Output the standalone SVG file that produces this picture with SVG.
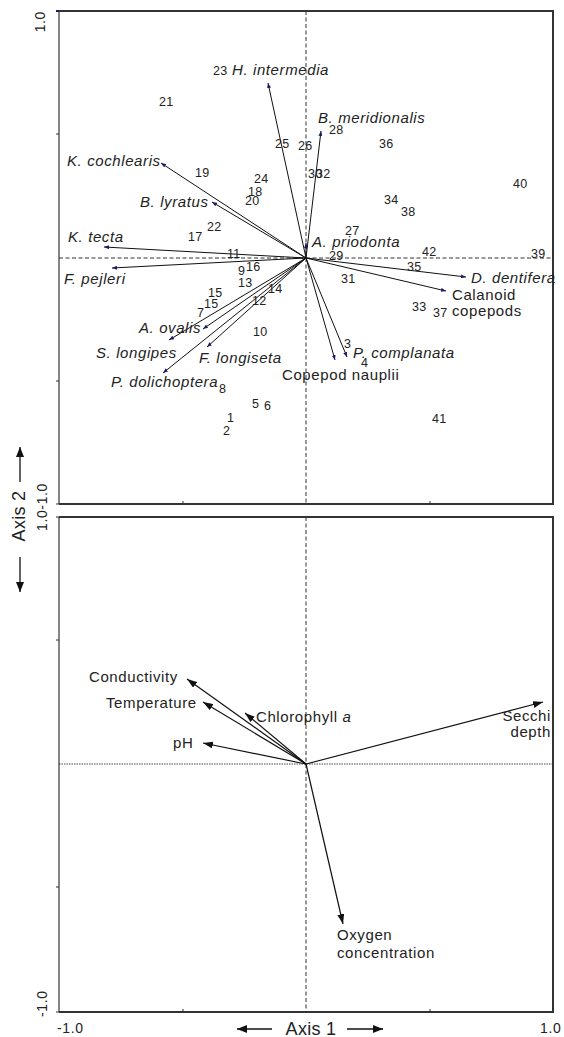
<svg xmlns="http://www.w3.org/2000/svg" width="564" height="1037" viewBox="0 0 564 1037">
<style>
text{font-family:"Liberation Sans",Arial,Helvetica,sans-serif;fill:#222}
.lb{font-size:15px;letter-spacing:0.6px}
.it{font-style:italic}
.n{font-size:12.5px;letter-spacing:0.3px}
.tk{font-size:14px;letter-spacing:0.6px}
.ax{font-size:18px;letter-spacing:0.3px}
.fr{stroke:#333;stroke-width:2;fill:none}
.fl{stroke:#333;stroke-width:1.2;fill:none}
.tick{stroke:#333;stroke-width:1}
.dash{stroke:#333;stroke-width:1;stroke-dasharray:4 2.5;fill:none}
.dot{stroke:#444;stroke-width:1;stroke-dasharray:1.5 1;fill:none}
.sp{stroke:#111;stroke-width:1;fill:none;marker-end:url(#hs)}
.ev{stroke:#111;stroke-width:1.2;fill:none;marker-end:url(#he)}
.aa{stroke:#111;stroke-width:1.3;fill:none;marker-end:url(#ha)}
</style>
<defs>
<marker id="hs" markerUnits="userSpaceOnUse" markerWidth="5" markerHeight="4" refX="5" refY="2" orient="auto"><path d="M0,0 L5,2 L0,4 z" fill="#1c1a6b"/></marker>
<marker id="he" markerUnits="userSpaceOnUse" markerWidth="10" markerHeight="7" refX="10" refY="3.5" orient="auto"><path d="M0,0 L10,3.5 L0,7 z" fill="#111"/></marker>
<marker id="ha" markerUnits="userSpaceOnUse" markerWidth="10" markerHeight="8" refX="10" refY="4" orient="auto"><path d="M0,0 L10,4 L0,8 z" fill="#111"/></marker>
</defs>
<rect width="564" height="1037" fill="#fff"/>

<g id="frames">
<line class="dash" x1="306" y1="11" x2="306" y2="504"/>
<line class="dash" x1="59" y1="258" x2="553" y2="258"/>
<line class="dash" x1="306" y1="517" x2="306" y2="1012"/>
<line class="dot" x1="59" y1="764" x2="553" y2="764"/>
<path class="fr" d="M59,11 H553 V504 H59"/>
<line class="fl" x1="59" y1="11" x2="59" y2="504"/>
<path class="fr" d="M59,517 H553 V1012 H59"/>
<line class="fl" x1="59" y1="517" x2="59" y2="1012"/>
<line x1="56" y1="11" x2="59" y2="11" stroke="#1c1a6b" stroke-width="2"/>
<path class="tick" d="M56,134 H59 M56,381 H59 M56,504 H59 M56,517 H59 M56,640 H59 M56,887 H59 M56,1012 H59 M183,504 V501 M430,504 V501 M183,1012 V1009 M430,1012 V1009"/>
</g>

<g id="axis-labels">
<text class="tk" transform="translate(45,11) rotate(-90)" text-anchor="end">1.0</text>
<text class="tk" transform="translate(47,507) rotate(-90)" text-anchor="middle">1.0-1.0</text>
<text class="tk" transform="translate(47,1017) rotate(-90)">-1.0</text>
<text class="tk" x="57" y="1033">-1.0</text>
<text class="tk" x="540" y="1033">1.0</text>
<text class="ax" transform="translate(25,516) rotate(-90)" text-anchor="middle">Axis 2</text>
<text class="ax" x="311" y="1035" text-anchor="middle">Axis 1</text>
</g>

<g id="connectors">
<line class="aa" x1="20" y1="482" x2="20" y2="447"/>
<line class="aa" x1="20" y1="557" x2="20" y2="592"/>
<line class="aa" x1="272" y1="1029" x2="237" y2="1029"/>
<line class="aa" x1="347" y1="1029" x2="383" y2="1029"/>
<line class="sp" x1="306" y1="258" x2="268" y2="83"/>
<line class="sp" x1="306" y1="258" x2="321" y2="131"/>
<line class="sp" x1="306" y1="258" x2="161" y2="163"/>
<line class="sp" x1="306" y1="258" x2="212" y2="202"/>
<line class="sp" x1="306" y1="258" x2="104" y2="247"/>
<line class="sp" x1="306" y1="258" x2="306" y2="243"/>
<line class="sp" x1="306" y1="258" x2="112" y2="268"/>
<line class="sp" x1="306" y1="258" x2="466" y2="277"/>
<line class="sp" x1="306" y1="258" x2="446" y2="291"/>
<line class="sp" x1="306" y1="258" x2="203" y2="329"/>
<line class="sp" x1="306" y1="258" x2="169" y2="340"/>
<line class="sp" x1="306" y1="258" x2="207" y2="347"/>
<line class="sp" x1="306" y1="258" x2="163" y2="373"/>
<line class="sp" x1="306" y1="258" x2="347" y2="357"/>
<line class="sp" x1="306" y1="258" x2="335" y2="360"/>
<line class="ev" x1="306" y1="764" x2="187" y2="679"/>
<line class="ev" x1="306" y1="764" x2="203" y2="702"/>
<line class="ev" x1="306" y1="764" x2="245" y2="713"/>
<line class="ev" x1="306" y1="764" x2="203" y2="743"/>
<line class="ev" x1="306" y1="764" x2="543" y2="702"/>
<line class="ev" x1="306" y1="764" x2="343" y2="924"/>
</g>

<g id="species">
<g id="sp-h-intermedia"><text class="lb it" x="232" y="75">H. intermedia</text></g>
<g id="sp-b-meridionalis"><text class="lb it" x="318" y="123">B. meridionalis</text></g>
<g id="sp-k-cochlearis"><text class="lb it" x="67" y="166">K. cochlearis</text></g>
<g id="sp-b-lyratus"><text class="lb it" x="140" y="207">B. lyratus</text></g>
<g id="sp-k-tecta"><text class="lb it" x="68" y="242">K. tecta</text></g>
<g id="sp-a-priodonta"><text class="lb it" x="312" y="247">A. priodonta</text></g>
<g id="sp-f-pejleri"><text class="lb it" x="64" y="284">F. pejleri</text></g>
<g id="sp-d-dentifera"><text class="lb it" x="471" y="283">D. dentifera</text></g>
<g id="sp-calanoid"><text class="lb" x="452" y="300">Calanoid</text><text class="lb" x="452" y="316">copepods</text></g>
<g id="sp-a-ovalis"><text class="lb it" x="139" y="333">A. ovalis</text></g>
<g id="sp-s-longipes"><text class="lb it" x="96" y="358">S. longipes</text></g>
<g id="sp-f-longiseta"><text class="lb it" x="199" y="363">F. longiseta</text></g>
<g id="sp-p-dolichoptera"><text class="lb it" x="111" y="387">P. dolichoptera</text></g>
<g id="sp-p-complanata"><text class="lb it" x="353" y="358">P. complanata</text></g>
<g id="sp-nauplii"><text class="lb" x="282" y="380">Copepod nauplii</text></g>
</g>

<g id="sites">
<g id="s23"><text class="n" x="213" y="75">23</text></g>
<g id="s21"><text class="n" x="159" y="106">21</text></g>
<g id="s28"><text class="n" x="329" y="134">28</text></g>
<g id="s25"><text class="n" x="275" y="148">25</text></g>
<g id="s26"><text class="n" x="298" y="150">26</text></g>
<g id="s36"><text class="n" x="379" y="148">36</text></g>
<g id="s19"><text class="n" x="195" y="177">19</text></g>
<g id="s30"><text class="n" x="308" y="178">30</text></g>
<g id="s32"><text class="n" x="316" y="178">32</text></g>
<g id="s24"><text class="n" x="254" y="183">24</text></g>
<g id="s40"><text class="n" x="513" y="188">40</text></g>
<g id="s18"><text class="n" x="248" y="196">18</text></g>
<g id="s20"><text class="n" x="245" y="205">20</text></g>
<g id="s34"><text class="n" x="384" y="204">34</text></g>
<g id="s38"><text class="n" x="401" y="216">38</text></g>
<g id="s22"><text class="n" x="207" y="231">22</text></g>
<g id="s17"><text class="n" x="188" y="241">17</text></g>
<g id="s27"><text class="n" x="345" y="235">27</text></g>
<g id="s42"><text class="n" x="422" y="256">42</text></g>
<g id="s39"><text class="n" x="531" y="258">39</text></g>
<g id="s11"><text class="n" x="227" y="258">11</text></g>
<g id="s29"><text class="n" x="329" y="260">29</text></g>
<g id="s16"><text class="n" x="246" y="271">16</text></g>
<g id="s9"><text class="n" x="238" y="275">9</text></g>
<g id="s35"><text class="n" x="407" y="271">35</text></g>
<g id="s31"><text class="n" x="341" y="283">31</text></g>
<g id="s13"><text class="n" x="238" y="287">13</text></g>
<g id="s14"><text class="n" x="268" y="293">14</text></g>
<g id="s15a"><text class="n" x="208" y="297">15</text></g>
<g id="s15b"><text class="n" x="204" y="308">15</text></g>
<g id="s12"><text class="n" x="252" y="305">12</text></g>
<g id="s33"><text class="n" x="412" y="311">33</text></g>
<g id="s37"><text class="n" x="433" y="317">37</text></g>
<g id="s7"><text class="n" x="197" y="317">7</text></g>
<g id="s10"><text class="n" x="253" y="336">10</text></g>
<g id="s3"><text class="n" x="344" y="348">3</text></g>
<g id="s4"><text class="n" x="361" y="367">4</text></g>
<g id="s8"><text class="n" x="219" y="393">8</text></g>
<g id="s5"><text class="n" x="252" y="408">5</text></g>
<g id="s6"><text class="n" x="264" y="410">6</text></g>
<g id="s1"><text class="n" x="227" y="422">1</text></g>
<g id="s2"><text class="n" x="223" y="435">2</text></g>
<g id="s41"><text class="n" x="432" y="423">41</text></g>
</g>

<g id="variables">
<g id="v-conductivity"><text class="lb" x="89" y="682">Conductivity</text></g>
<g id="v-temperature"><text class="lb" x="106" y="708">Temperature</text></g>
<g id="v-chlorophyll"><text class="lb" x="256" y="722">Chlorophyll <tspan class="it">a</tspan></text></g>
<g id="v-ph"><text class="lb" x="173" y="748">pH</text></g>
<g id="v-secchi"><text class="lb" x="551" y="721" text-anchor="end">Secchi</text><text class="lb" x="551" y="737" text-anchor="end">depth</text></g>
<g id="v-oxygen"><text class="lb" x="337" y="940">Oxygen</text><text class="lb" x="337" y="958">concentration</text></g>
</g>
</svg>
